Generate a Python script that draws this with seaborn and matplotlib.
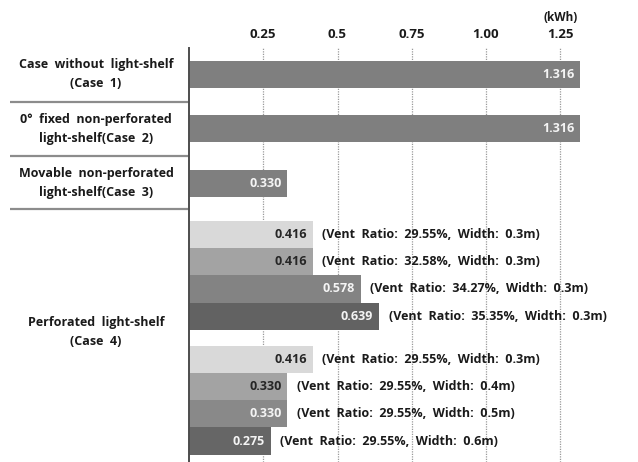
import matplotlib
matplotlib.use("Agg")
import matplotlib.pyplot as plt
import matplotlib.transforms as mtransforms
import numpy as np
import pandas as pd
import seaborn as sns

# --- data -------------------------------------------------------------
case_labels = [
    "Case  without  light-shelf\n(Case  1)",
    "0\u00b0  fixed  non-perforated\nlight-shelf(Case  2)",
    "Movable  non-perforated\nlight-shelf(Case  3)",
    "Perforated  light-shelf\n(Case  4)",
]
case_values = [1.316, 1.316, 0.330]
perforated_values = [0.416, 0.416, 0.578, 0.639, 0.416, 0.330, 0.330, 0.275]
vent_ratios = ["29.55%", "32.58%", "34.27%", "35.35%",
               "29.55%", "29.55%", "29.55%", "29.55%"]
shelf_widths = ["0.3m", "0.3m", "0.3m", "0.3m",
                "0.3m", "0.4m", "0.5m", "0.6m"]
x_ticks = [0.25, 0.5, 0.75, 1.00, 1.25]
x_tick_labels = ["0.25", "0.5", "0.75", "1.00", "1.25"]
unit_label = "(kWh)"

# --- styling ----------------------------------------------------------
case_colors = ["#7f7f7f", "#7f7f7f", "#7f7f7f"]
perforated_colors = ["#d9d9d9", "#a3a3a3", "#838383", "#626262",
                     "#d9d9d9", "#a3a3a3", "#898989", "#666666"]
case_text_colors = ["#f4f4f4"] * 3
perforated_text_colors = ["#262626", "#262626", "#f4f4f4", "#f4f4f4",
                          "#262626", "#262626", "#f4f4f4", "#f4f4f4"]

# row layout: three single rows, then two sub-groups of four stacked bars
case_pos = [0.0, 1.0, 2.0]
perforated_pos = []
start = 2.95
for sub in range(2):
    for k in range(4):
        perforated_pos.append(start + k * 0.5)
    start += 4 * 0.5 + 0.3

values = case_values + perforated_values
positions = case_pos + perforated_pos
colors = case_colors + perforated_colors
text_colors = case_text_colors + perforated_text_colors
bar_ids = [f"b{i}" for i in range(len(values))]

df = pd.DataFrame({"pos": positions, "value": values, "bar": bar_ids})

sns.set_theme(style="white")
plt.rcParams["font.family"] = ["Open Sans", "DejaVu Sans"]
FW = "bold"
FS = 9

fig = plt.figure(figsize=(6.38, 4.62), dpi=100)
ax = fig.add_axes([189 / 638, 0.0, 1 - 189 / 638, 1 - 48 / 462])

sns.barplot(data=df, x="value", y="pos", hue="bar", orient="y",
            native_scale=True, dodge=False, width=1.0,
            palette=dict(zip(bar_ids, colors)), legend=False,
            saturation=1.0, linewidth=0, ax=ax)

ax.set_xlim(0, 449 / 297)
ax.set_ylim(-0.488 + 414 / 54.3, -0.488)

# axis: ticks on top, dotted vertical grid, only the left spine
ax.xaxis.tick_top()
ax.set_xticks(x_ticks)
ax.set_xticklabels(x_tick_labels, fontsize=9.5, fontweight=FW, color="#1a1a1a")
ax.tick_params(axis="x", length=0, pad=5)
ax.set_yticks([])
ax.set_xlabel("")
ax.set_ylabel("")
for s in ["top", "right", "bottom"]:
    ax.spines[s].set_visible(False)
ax.spines["left"].set_color("#4d4d4d")
ax.spines["left"].set_linewidth(1.4)
for xv in x_ticks:
    ax.axvline(xv, color="#9a9a9a", linestyle=(0, (1, 1)), linewidth=0.9, zorder=0)

ax.annotate(unit_label, xy=(x_ticks[-1], 1.0), xycoords=("data", "axes fraction"),
            xytext=(0, 17), textcoords="offset points", ha="center", va="bottom",
            fontsize=8.5, fontweight=FW, color="#1a1a1a")

# value labels inside the bars
for v, y, tc in zip(values, positions, text_colors):
    ax.annotate(f"{v:.3f}", xy=(v, y), xytext=(-4, 0), textcoords="offset points",
                ha="right", va="center", fontsize=FS, fontweight=FW, color=tc)

# vent ratio / width notes beside the perforated bars
for v, y, r, w in zip(perforated_values, perforated_pos, vent_ratios, shelf_widths):
    ax.annotate(f"(Vent  Ratio:  {r},  Width:  {w})", xy=(v, y), xytext=(7, 0),
                textcoords="offset points", ha="left", va="center",
                fontsize=FS, fontweight=FW, color="#1a1a1a")

# category labels and separators on the left
blend = mtransforms.blended_transform_factory(ax.transAxes, ax.transData)
label_x = (96 - 189) / 449
label_y = case_pos + [4.75]
for txt, y in zip(case_labels, label_y):
    ax.text(label_x, y, txt, transform=blend, ha="center", va="center",
            fontsize=FS, fontweight=FW, color="#1a1a1a", linespacing=1.6)

sep_y = [0.5, 1.5, (case_pos[-1] + 0.25 + perforated_pos[0] - 0.25) / 2]
for y in sep_y:
    ax.plot([(10 - 189) / 449, 0], [y, y], transform=blend, color="#8c8c8c",
            linewidth=1.6, clip_on=False, solid_capstyle="butt")

fig.savefig("out.png", dpi=100)
